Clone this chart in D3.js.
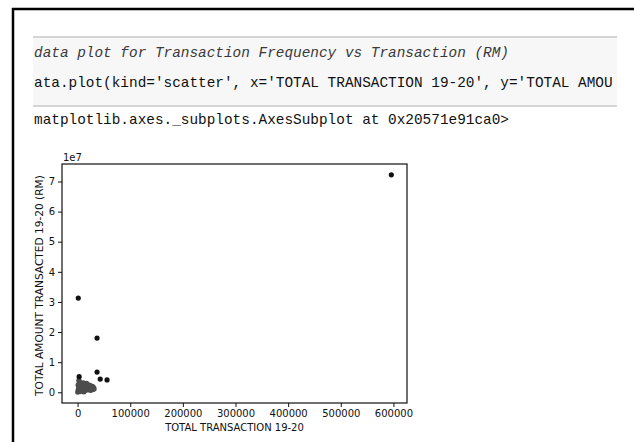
<!DOCTYPE html>
<html>
<head>
<meta charset="utf-8">
<script src="https://cdn.jsdelivr.net/npm/d3@7"></script>
<style>
  body { margin: 0; background: #fff; }
  svg { display: block; }
  .mono { font-family: "Liberation Mono", "Courier New", monospace; font-size: 14.4px; }
  .axis text { font-family: "DejaVu Sans", sans-serif; font-size: 10px; fill: #111; }
  .axis path, .axis line { stroke: #111; }
</style>
</head>
<body>
<svg width="634" height="442"></svg>
<script>
// ---- Dados
const codeLines = [
    "data plot for Transaction Frequency vs Transaction (RM)",
    "ata.plot(kind='scatter', x='TOTAL TRANSACTION 19-20', y='TOTAL AMOU"
];
const outputLine = "matplotlib.axes._subplots.AxesSubplot at 0x20571e91ca0>";

const xLabel = "TOTAL TRANSACTION 19-20";
const yLabel = "TOTAL AMOUNT TRANSACTED 19-20 (RM)";
const xTicks = [0, 100000, 200000, 300000, 400000, 500000, 600000];
const yTicks = [0, 1e7, 2e7, 3e7, 4e7, 5e7, 6e7, 7e7];

// pontos isolados
const outlierX = [596000, 1300, 37000, 37000, 43000, 56000, 3000];
const outlierY = [72.2e6, 31.3e6, 18.0e6, 6.7e6, 4.4e6, 4.1e6, 5.2e6];

// nuvem densa perto da origem
const clusterX = [200, 800, 1500, 2100, 2600, 3100, 2400, 1800, 3500, 2900, 4200,
    5500, 6100, 7000, 8200, 9100, 10400, 11200, 12500, 13800, 14600, 15900,
    17100, 18300, 19400, 20600, 21800, 22700, 23900, 25200, 26400, 27300,
    28500, 29600, 30800, 31500, 9800, 16200, 24100, 4800, 12000, 700];
const clusterY = [0.05e6, 0.6e6, 1.2e6, 1.9e6, 2.6e6, 3.3e6, 4.0e6, 0.3e6, 1.5e6, 3.8e6, 2.2e6,
    0.4e6, 2.8e6, 1.3e6, 3.1e6, 0.7e6, 2.4e6, 3.2e6, 1.1e6, 2.9e6, 0.5e6, 2.1e6,
    3.0e6, 1.4e6, 2.7e6, 0.8e6, 2.0e6, 1.2e6, 2.3e6, 0.6e6, 1.8e6, 1.0e6,
    2.0e6, 0.9e6, 1.6e6, 1.1e6, 1.7e6, 1.0e6, 1.5e6, 0.2e6, 0.1e6, 2.4e6];

const svg = d3.select('svg');

// ---- Moldura do notebook
svg.append('line').attr('x1', 13).attr('x2', 13).attr('y1', 8).attr('y2', 442)
    .attr('stroke', '#000').attr('stroke-width', 2.5);
svg.append('line').attr('x1', 12).attr('x2', 634).attr('y1', 9).attr('y2', 9)
    .attr('stroke', '#000').attr('stroke-width', 2.5);

// célula de código
svg.append('rect').attr('x', 33).attr('y', 37).attr('width', 584).attr('height', 69).attr('fill', '#f7f7f7');
svg.append('line').attr('x1', 33).attr('x2', 617).attr('y1', 37).attr('y2', 37).attr('stroke', '#c8c8c8').attr('stroke-width', 1.5);
svg.append('line').attr('x1', 33).attr('x2', 617).attr('y1', 106).attr('y2', 106).attr('stroke', '#c8c8c8').attr('stroke-width', 1.5);

svg.append('text').attr('class', 'mono').attr('x', 34).attr('y', 57)
    .attr('font-style', 'italic').attr('fill', '#3a3a3a').text(codeLines[0]);
svg.append('text').attr('class', 'mono').attr('x', 34).attr('y', 87)
    .attr('fill', '#111').text(codeLines[1]);

svg.append('text').attr('class', 'mono').attr('x', 34).attr('y', 124)
    .attr('fill', '#111').text(outputLine);

// ---- Escalas
const margens = { left: 62, right: 407, top: 164, bottom: 403 };
const allX = outlierX.concat(clusterX);
const allY = outlierY.concat(clusterY);
const [x0, x1] = d3.extent(allX);
const [y0, y1] = d3.extent(allY);
const padX = (x1 - x0) * 0.05, padY = (y1 - y0) * 0.05;

const mapX = d3.scaleLinear().domain([x0 - padX, x1 + padX]).range([margens.left, margens.right]);
const mapY = d3.scaleLinear().domain([y0 - padY, y1 + padY]).range([margens.bottom, margens.top]);

// ---- Eixos
svg.append('g')
    .attr('class', 'axis')
    .attr('transform', `translate(0, ${margens.bottom})`)
    .call(d3.axisBottom(mapX).tickValues(xTicks).tickFormat(d3.format('d')).tickSize(4).tickPadding(3).tickSizeOuter(0));

svg.append('g')
    .attr('class', 'axis')
    .attr('transform', `translate(${margens.left}, 0)`)
    .call(d3.axisLeft(mapY).tickValues(yTicks).tickFormat(d => d / 1e7).tickSize(4).tickPadding(3).tickSizeOuter(0));

svg.selectAll('.axis .domain').remove();

svg.append('rect')
    .attr('x', margens.left).attr('y', margens.top)
    .attr('width', margens.right - margens.left).attr('height', margens.bottom - margens.top)
    .attr('fill', 'none').attr('stroke', '#111').attr('stroke-width', 1.2);

svg.append('text')
    .attr('x', margens.left + 1).attr('y', margens.top - 3)
    .style('font-family', '"DejaVu Sans", sans-serif').style('font-size', '10px').attr('fill', '#111')
    .text('1e7');

svg.append('text')
    .attr('x', (margens.left + margens.right) / 2).attr('y', 431)
    .attr('text-anchor', 'middle')
    .style('font-family', '"DejaVu Sans", sans-serif').style('font-size', '10px').attr('fill', '#111')
    .text(xLabel);

svg.append('text')
    .attr('transform', `translate(43, ${(margens.top + margens.bottom) / 2 + 2}) rotate(-90)`)
    .attr('text-anchor', 'middle')
    .style('font-family', '"DejaVu Sans", sans-serif').style('font-size', '10.6px').attr('fill', '#111')
    .text(yLabel);

// ---- Pontos
svg.append('g').selectAll('circle')
    .data(clusterX.map((d, i) => ({ x: d, y: clusterY[i] })))
    .join('circle')
    .attr('cx', d => mapX(d.x))
    .attr('cy', d => mapY(d.y))
    .attr('r', 2.5)
    .attr('fill', '#4d4d4d');

svg.append('g').selectAll('circle')
    .data(outlierX.map((d, i) => ({ x: d, y: outlierY[i] })))
    .join('circle')
    .attr('cx', d => mapX(d.x))
    .attr('cy', d => mapY(d.y))
    .attr('r', 2.6)
    .attr('fill', '#111');
</script>
</body>
</html>
